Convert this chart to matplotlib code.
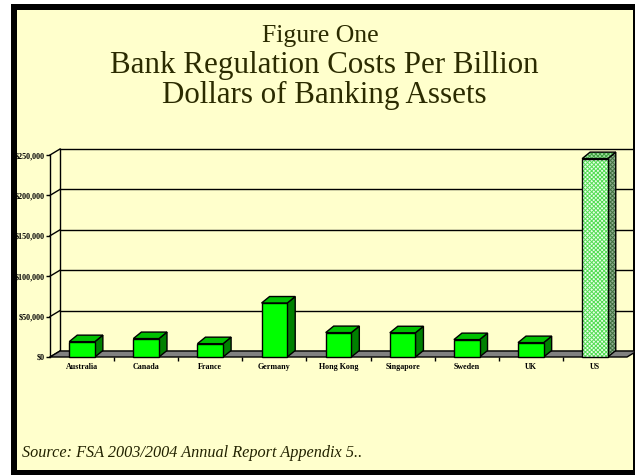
import matplotlib.pyplot as plt
from matplotlib.patches import Polygon, Rectangle
from matplotlib.ticker import FuncFormatter

plt.rcParams['font.family'] = ['Liberation Serif', 'DejaVu Serif']
plt.rcParams['hatch.linewidth'] = 0.7

# cost per billion dollars of banking assets
countries = ['Australia', 'Canada', 'France', 'Germany', 'Hong Kong',
             'Singapore', 'Sweden', 'UK', 'US']
costs = [19000, 22800, 16500, 66800, 30200, 30000, 21500, 17800, 245500]
yticks = [0, 50000, 100000, 150000, 200000, 250000]

W, H = 635, 475
fig = plt.figure(figsize=(W / 100, H / 100), dpi=100)
fig.patch.set_facecolor('white')

# black shadow frame + pale yellow panel
fig.patches.append(Rectangle((11 / W, 0), 624 / W, 471 / H, transform=fig.transFigure,
                             facecolor='black', edgecolor='none', zorder=-10))
fig.patches.append(Rectangle((17 / W, 5 / H), 616 / W, 460 / H, transform=fig.transFigure,
                             facecolor='#ffffcc', edgecolor='none', zorder=-9))

title_col = '#2b2b00'
fig.text(320 / W, 1 - 36 / H, 'Figure One', ha='center', va='center',
         fontsize=18.5, color=title_col)
fig.text(324 / W, 1 - 66 / H, 'Bank Regulation Costs Per Billion', ha='center',
         va='center', fontsize=22.3, color=title_col)
fig.text(324 / W, 1 - 95 / H, 'Dollars of Banking Assets', ha='center',
         va='center', fontsize=22.3, color=title_col)
fig.text(22 / W, 1 - 453 / H, 'Source: FSA 2003/2004 Annual Report Appendix 5..',
         ha='left', va='center', fontsize=11.7, style='italic', color='#222200')

# front plane of the plot, in pixels: x 50..627, y 357 (zero) .. 155 (250k)
ax = fig.add_axes([50 / W, (H - 357) / H, 577 / W, 202 / H])
ax.set_facecolor('none')
n = len(countries)
ax.set_xlim(-0.5, n - 0.5)
ax.set_ylim(0, 250000)

px_x = n / 577.0
px_y = 250000 / 202.0
dx, dy = 10 * px_x, 6 * px_y       # floor / wall depth
bdx, bdy = 8 * px_x, 6.5 * px_y    # bar depth
x0, x1 = -0.5, n - 0.5

# back wall gridlines and side wall diagonals
for t in yticks:
    ax.plot([x0 + dx, x1 + dx], [t + dy, t + dy], color='black', lw=1.0,
            clip_on=False, zorder=1)
    ax.plot([x0, x0 + dx], [t, t + dy], color='black', lw=1.0, clip_on=False, zorder=1)
ax.plot([x0 + dx, x0 + dx], [dy, 250000 + dy], color='black', lw=1.0,
        clip_on=False, zorder=1)

# floor
ax.add_patch(Polygon([(x0, 0), (x1, 0), (x1 + dx, dy), (x0 + dx, dy)], closed=True,
                     facecolor='#808080', edgecolor='black', lw=1.0, clip_on=False,
                     zorder=2))

w = 0.2
for i, v in enumerate(costs):
    front = [(i - w, 0), (i + w, 0), (i + w, v), (i - w, v)]
    top = [(i - w, v), (i + w, v), (i + w + bdx, v + bdy), (i - w + bdx, v + bdy)]
    side = [(i + w, 0), (i + w + bdx, bdy), (i + w + bdx, v + bdy), (i + w, v)]
    if countries[i] == 'US':
        faces = [(side, '#8fb08f', '#3f6f3f'), (top, '#a0e0a0', '#40a040'),
                 (front, '#e8ffe8', '#55dd55')]
        for pts, fc, hc in faces:
            ax.add_patch(Polygon(pts, closed=True, facecolor=fc, edgecolor=hc, lw=0,
                                 hatch='xxxxxxxx', clip_on=False, zorder=3))
            ax.add_patch(Polygon(pts, closed=True, fill=False, edgecolor='black',
                                 lw=1.0, clip_on=False, zorder=3))
    else:
        for pts, fc in [(side, '#008000'), (top, '#00c000'), (front, '#00ff00')]:
            ax.add_patch(Polygon(pts, closed=True, facecolor=fc, edgecolor='black',
                                 lw=1.0, clip_on=False, zorder=3))

for s in ['top', 'right', 'bottom']:
    ax.spines[s].set_visible(False)
ax.spines['left'].set_linewidth(1.0)
ax.spines['left'].set_zorder(4)

ax.set_yticks(yticks)
ax.yaxis.set_major_formatter(FuncFormatter(lambda v, p: '${:,.0f}'.format(v)))
ax.tick_params(axis='y', direction='out', length=3, width=1, pad=1,
               labelsize=5.8)
for lab in ax.get_yticklabels():
    lab.set_fontweight('bold')

ax.set_xticks(range(n))
ax.set_xticklabels(countries, fontsize=5.8, fontweight='bold')
ax.set_xticks([k + 0.5 for k in range(n - 1)], minor=True)
ax.tick_params(axis='x', which='major', length=0, pad=4.5)
ax.tick_params(axis='x', which='minor', direction='out', length=3, width=1)

fig.savefig('out.png', dpi=100, facecolor=fig.get_facecolor())
